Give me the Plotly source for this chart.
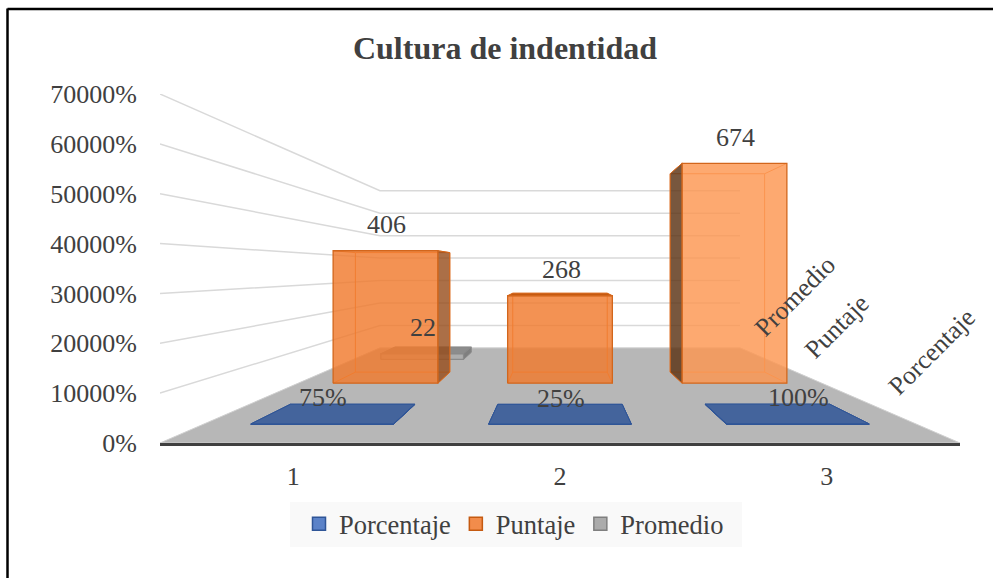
import plotly.graph_objects as go

title_text = "Cultura de indentidad"
categories = [1, 2, 3]
series_names = ["Porcentaje", "Puntaje", "Promedio"]
porcentaje = [0.75, 0.25, 1.00]
puntaje = [406, 268, 674]
promedio = [22, None, None]

W, H = 993, 578
L, R, T, B = 160, 33, 94, 135
YMAX = 700
INK = "#404040"
FONT = "Liberation Serif"

# perspective of the 3D box, in axis units
VX, VY = 2.0, 347.0
BACK = 2.222
HALF = 0.30
DEPTHS = {"Porcentaje": (1.121, 1.287), "Puntaje": (1.528, 1.694), "Promedio": (1.935, 2.101)}


def proj(c, v, d):
    return VX + (c - VX) / d, VY + (v - VY) / d


def poly(points, fill, line, width=1.0, **kw):
    xs, ys = zip(*points)
    return go.Scatter(
        x=list(xs) + [xs[0]], y=list(ys) + [ys[0]], mode="lines", fill="toself" if fill else None,
        fillcolor=fill, line=dict(color=line, width=width), hoverinfo="skip", showlegend=False,
        cliponaxis=False, **kw)


def box(c, v, depth, st):
    d0, d1 = depth
    x0, x1 = c - HALF, c + HALF
    out = []
    # back face and inner edges
    out.append(poly([proj(x0, 0, d1), proj(x1, 0, d1), proj(x1, v, d1), proj(x0, v, d1)], None, st["inner"]))
    for xx in (x0, x1):
        for vv in (0, v):
            a, b = proj(xx, vv, d0), proj(xx, vv, d1)
            out.append(go.Scatter(x=[a[0], b[0]], y=[a[1], b[1]], mode="lines", line=dict(color=st["inner"], width=1),
                                  hoverinfo="skip", showlegend=False, cliponaxis=False))
    # visible outer faces
    if v < VY:
        out.append(poly([proj(x0, v, d0), proj(x1, v, d0), proj(x1, v, d1), proj(x0, v, d1)], st["top"], st["edge"]))
    if x1 < VX:
        out.append(poly([proj(x1, 0, d0), proj(x1, v, d0), proj(x1, v, d1), proj(x1, 0, d1)], st["side"], st["edge"]))
    if x0 > VX:
        out.append(poly([proj(x0, 0, d0), proj(x0, v, d0), proj(x0, v, d1), proj(x0, 0, d1)], st["side"], st["edge"]))
    out.append(poly([proj(x0, 0, d0), proj(x1, 0, d0), proj(x1, v, d0), proj(x0, v, d0)], st["front"], st["edge"], 1.3))
    return out


fig = go.Figure()

# floor
fig.add_trace(poly([proj(0.5, 0, 1), proj(3.5, 0, 1), proj(3.5, 0, BACK), proj(0.5, 0, BACK)], "#B7B7B7", "#D0D0D0"))

# gridlines on the side and back walls
gx, gy = [], []
for v in range(100, YMAX + 1, 100):
    a = proj(0.5, v, 1)
    b = proj(0.5, v, BACK)
    c = proj(3.5, v, BACK)
    gx += [a[0], b[0], c[0], None]
    gy += [a[1], b[1], c[1], None]
fig.add_trace(go.Scatter(x=gx, y=gy, mode="lines", line=dict(color="#D9D9D9", width=1.5), hoverinfo="skip",
                         showlegend=False, cliponaxis=False))

grey = dict(front="rgba(172,172,172,0.85)", top="#8C8C8C", side="#7F7F7F", edge="#8A8A8A", inner="#9A9A9A")
orange = dict(front="rgba(240,122,45,0.82)", top="#C55A11", side="rgba(150,75,25,0.8)", edge="#D2661C", inner="#EE8438")
orange3 = dict(front="rgba(253,150,80,0.82)", top="#C55A11", side="rgba(90,50,20,0.82)", edge="#D2661C", inner="#F08A44")
blue = dict(front="#44649C", top="#44649C", side="#44649C", edge="#2F5597", inner="#2F5597")

for c, v in zip(categories, promedio):
    if v is not None:
        fig.add_traces(box(c, v, DEPTHS["Promedio"], grey))
for c, v in zip(categories, puntaje):
    fig.add_traces(box(c, v, DEPTHS["Puntaje"], orange3 if c == 3 else orange))
for c, v in zip(categories, porcentaje):
    fig.add_traces(box(c, v, DEPTHS["Porcentaje"], blue))

# legend entries
for name, fc, lc in [(series_names[0], "#5B82C8", "#2F5597"), (series_names[1], "#F28C4B", "#C55A11"),
                     (series_names[2], "#ABABAB", "#7F7F7F")]:
    fig.add_trace(go.Scatter(x=[None], y=[None], mode="markers", name=name,
                             marker=dict(symbol="square", size=13, color=fc, line=dict(color=lc, width=1.5))))

# data labels
ann = []
def label(c, v, d, text):
    x, y = proj(c, v, d)
    ann.append(dict(x=x, y=y, text=text, showarrow=False, xanchor="center", yanchor="middle", yshift=26, xshift=1,
                    font=dict(family=FONT, size=26, color=INK)))

for c, v in zip(categories, porcentaje):
    label(c, v, DEPTHS["Porcentaje"][0], f"{v:.0%}")
for c, v in zip(categories, puntaje):
    label(c, v, DEPTHS["Puntaje"][0], str(v))
for c, v in zip(categories, promedio):
    if v is not None:
        label(c, v, DEPTHS["Promedio"][0], str(v))

# depth axis labels
for name in series_names:
    d0, d1 = DEPTHS[name]
    x, y = proj(3.5, 0, (d0 + d1) / 2)
    ann.append(dict(x=x, y=y, text=name, showarrow=False, textangle=-45, xanchor="left", yanchor="bottom",
                    xshift=-12, yshift=10, font=dict(family=FONT, size=26, color=INK)))

fig.update_layout(
    width=W, height=H, autosize=False, margin=dict(l=L, r=R, t=T, b=B),
    paper_bgcolor="white", plot_bgcolor="white", font=dict(family=FONT, size=26, color=INK),
    title=dict(text=f"<b>{title_text}</b>", x=505 / W, xanchor="center", y=1 - 48 / H, yanchor="middle",
               font=dict(family=FONT, size=32, color=INK)),
    xaxis=dict(range=[0.5, 3.5], tickmode="array", tickvals=categories, ticktext=[str(c) for c in categories],
               showgrid=False, zeroline=False, showline=True, linecolor="#404040", linewidth=3,
               ticks="outside", ticklen=8, tickcolor="rgba(0,0,0,0)", tickfont=dict(family=FONT, size=26, color=INK)),
    yaxis=dict(range=[0, YMAX], dtick=100, tickformat=".0%", showgrid=False, zeroline=False, showline=False,
               ticks="outside", ticklen=17, tickcolor="rgba(0,0,0,0)", tickfont=dict(family=FONT, size=26, color=INK)),
    showlegend=True,
    legend=dict(orientation="h", x=(299 - L) / (W - L - R), xanchor="left", y=-(524 - 443) / (H - T - B), yanchor="middle",
                bgcolor="rgba(0,0,0,0)", font=dict(family=FONT, size=26.5, color=INK), itemwidth=30, itemclick=False),
    annotations=ann,
    shapes=[
        dict(type="rect", xref="paper", yref="paper", x0=(290 - L) / (W - L - R), x1=(742 - L) / (W - L - R),
             y0=-(547 - 443) / (H - T - B), y1=-(502 - 443) / (H - T - B), fillcolor="#F9F9F9", line=dict(width=0), layer="below"),
        dict(type="line", xref="paper", yref="paper", x0=(7.5 - L) / (W - L - R), x1=(7.5 - L) / (W - L - R),
             y0=-(H - 443) / (H - T - B), y1=(443 - 8.5) / (H - T - B), line=dict(color="#000000", width=2.5)),
        dict(type="line", xref="paper", yref="paper", x0=(7.5 - L) / (W - L - R), x1=1 + (R) / (W - L - R),
             y0=(443 - 9) / (H - T - B), y1=(443 - 9) / (H - T - B), line=dict(color="#000000", width=2.5)),
    ],
)

fig.write_html("out.html", post_script="document.body.style.margin='0';", config=dict(displayModeBar=False))
